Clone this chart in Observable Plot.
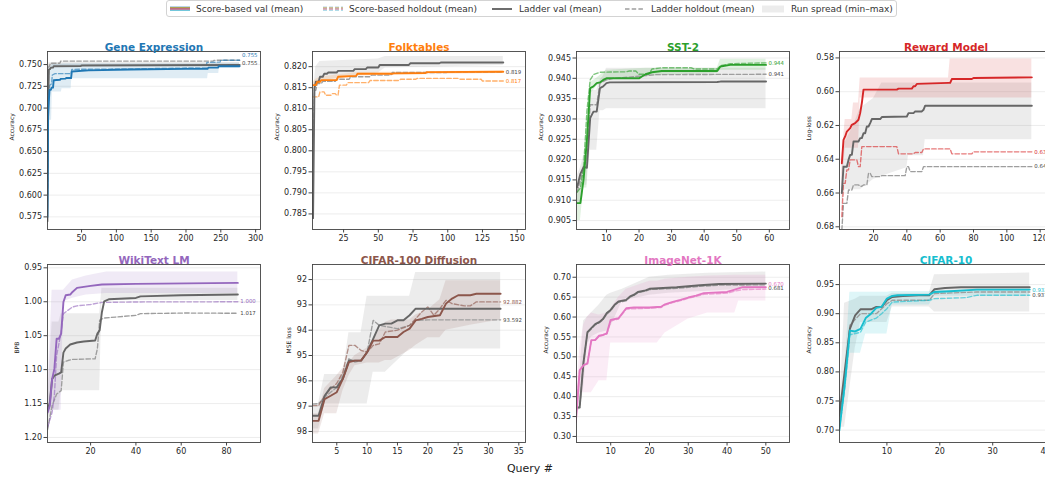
<!DOCTYPE html>
<html><head><meta charset="utf-8">
<script src="https://cdn.jsdelivr.net/npm/d3@7"></script>
<script src="https://cdn.jsdelivr.net/npm/@observablehq/plot@0.6"></script>
<style>
html,body{margin:0;padding:0;background:#fff;}
body{width:1045px;height:480px;overflow:hidden;position:relative;font-family:"DejaVu Sans",sans-serif;}
.panel{position:absolute;}
.panel svg{overflow:visible;max-width:none;}
#legend{position:absolute;left:166px;top:0px;width:731px;height:17px;border:1px solid #d3d3d3;border-radius:3px;box-sizing:border-box;background:#fff;}
.lg{position:absolute;font-size:9px;color:#333;top:2px;line-height:12px;white-space:nowrap;}
.sw{position:absolute;}
#xlabel{position:absolute;left:0;width:1060px;text-align:center;top:462px;font-size:11px;color:#222;}
</style></head><body>
<div id="legend"></div>
<div id="xlabel">Query #</div>
<script>
// ---------- DATA ----------
const titles = ["Gene Expression","Folktables","SST-2","Reward Model","WikiText LM","CIFAR-100 Diffusion","ImageNet-1K","CIFAR-10"];
const yLabels = ["Accuracy","Accuracy","Accuracy","Log-loss","BPB","MSE loss","Accuracy","Accuracy"];
const legendLabels = ["Score-based val (mean)","Score-based holdout (mean)","Ladder val (mean)","Ladder holdout (mean)","Run spread (min\u2013max)"];

const geneXTicks=[50,100,150,200,250,300];
const geneYTicks=[0.575,0.6,0.625,0.65,0.675,0.7,0.725,0.75];
const folkXTicks=[25,50,75,100,125,150];
const folkYTicks=[0.785,0.79,0.795,0.8,0.805,0.81,0.815,0.82];
const sstXTicks=[10,20,30,40,50,60];
const sstYTicks=[0.905,0.91,0.915,0.92,0.925,0.93,0.935,0.94,0.945];
const rewardXTicks=[20,40,60,80,100,120];
const rewardYTicks=[0.58,0.6,0.62,0.64,0.66,0.68];
const wikiXTicks=[20,40,60,80];
const wikiYTicks=[0.95,1.0,1.05,1.1,1.15,1.2];
const c100XTicks=[5,10,15,20,25,30,35];
const c100YTicks=[92,93,94,95,96,97,98];
const inetXTicks=[10,20,30,40,50];
const inetYTicks=[0.3,0.35,0.4,0.45,0.5,0.55,0.6,0.65,0.7];
const c10XTicks=[10,20,30,40];
const c10YTicks=[0.7,0.75,0.8,0.85,0.9,0.95];

// Gene Expression
const geneScoreVal=[[1,0.575],[2,0.69],[3,0.708],[4,0.721],[6,0.721],[7,0.7235],[9,0.7235],[10,0.732],[19,0.7325],[20,0.7335],[27,0.7338],[28,0.7345],[35,0.7345],[36,0.742],[60,0.7433],[120,0.7443],[200,0.745],[231,0.745],[232,0.7465],[246,0.7465],[247,0.748],[277,0.748]];
const geneScoreHold=[[1,0.585],[2,0.70],[4,0.726],[7,0.728],[8,0.738],[12,0.7395],[35,0.7395],[36,0.7445],[120,0.745],[200,0.746],[229,0.746],[230,0.7525],[249,0.7528],[250,0.755],[277,0.755]];
const geneLadderVal=[[1,0.57],[2,0.70],[3,0.744],[5,0.745],[6,0.7465],[9,0.7465],[10,0.748],[49,0.7483],[50,0.749],[277,0.7495]];
const geneLadderHold=[[1,0.60],[2,0.72],[3,0.748],[4,0.748],[5,0.7515],[19,0.7515],[20,0.754],[239,0.754],[240,0.7548],[250,0.755],[277,0.755]];
const geneScoreBand=[[1,0.56,0.60],[3,0.686,0.745],[7,0.686,0.749],[8,0.7185,0.750],[21,0.7185,0.750],[22,0.7223,0.751],[35,0.7223,0.751],[36,0.7338,0.751],[231,0.7338,0.751],[232,0.7396,0.751],[247,0.7396,0.7515],[248,0.746,0.7515],[277,0.746,0.7515]];
const geneLadderBand=[[1,0.56,0.60],[2,0.70,0.745],[3,0.743,0.752],[10,0.7465,0.7525],[50,0.748,0.7525],[277,0.748,0.7525]];

// Folktables
const folkScoreVal=[[2.6,0.8156],[5,0.8156],[6,0.8164],[8,0.8164],[9,0.8168],[20,0.8168],[21,0.8176],[34,0.8178],[35,0.8183],[60,0.8183],[61,0.8184],[84,0.8185],[85,0.8187],[140,0.8188]];
const folkScoreHold=[[2.6,0.8128],[7,0.8128],[8,0.814],[11,0.814],[12,0.8132],[16,0.8132],[17,0.8136],[19,0.8136],[20,0.8132],[21,0.8132],[22,0.8156],[27,0.8156],[28,0.8162],[43,0.8162],[44,0.8167],[65,0.8167],[66,0.817],[77,0.817],[78,0.8172],[108,0.8172],[109,0.817],[124,0.817],[125,0.8166],[140,0.8166]];
const folkLadderVal=[[3,0.784],[4,0.8148],[5,0.8164],[7,0.8164],[8,0.8176],[10,0.8176],[11,0.8183],[13,0.8183],[14,0.8186],[20,0.8186],[21,0.819],[32,0.819],[33,0.8194],[41,0.8194],[42,0.8198],[50,0.8198],[51,0.8204],[72,0.8204],[73,0.8208],[94,0.8208],[95,0.821],[140,0.821]];
const folkLadderHold=[[3,0.80],[4,0.8144],[5,0.8144],[6,0.816],[9,0.816],[10,0.8165],[19,0.8165],[20,0.817],[29,0.817],[30,0.8176],[44,0.8176],[45,0.818],[59,0.818],[60,0.8186],[99,0.8186],[100,0.8187],[140,0.8187]];
const folkScoreBand=[[2.6,0.8148,0.8162],[5,0.8155,0.817],[8,0.816,0.8175],[20,0.8168,0.818],[35,0.8178,0.8186],[140,0.8184,0.819]];
const folkLadderBand=[[3,0.783,0.815],[4,0.814,0.8165],[5,0.8155,0.8200],[8,0.8165,0.8212],[20,0.8172,0.8214],[50,0.8185,0.8218],[55,0.8197,0.8224],[140,0.8203,0.8224]];

// SST-2
const sstScoreVal=[[1,0.9093],[2,0.9093],[3,0.9153],[4,0.9248],[5,0.9376],[6,0.938],[7,0.9388],[8,0.939],[9,0.9396],[10,0.940],[20,0.940],[21,0.9405],[22,0.941],[24,0.9415],[27,0.9418],[44,0.9418],[45,0.9429],[48,0.9433],[59,0.9433]];
const sstScoreHold=[[1,0.912],[2,0.913],[3,0.918],[4,0.932],[5,0.9396],[6,0.9409],[8,0.9415],[16,0.9416],[17,0.9418],[19,0.9418],[20,0.941],[23,0.941],[24,0.9423],[27,0.9426],[36,0.9426],[37,0.9423],[44,0.9423],[45,0.9431],[48,0.9436],[59,0.9438]];
const sstLadderVal=[[1,0.9132],[2,0.9165],[3,0.9182],[4,0.918],[5,0.9302],[6,0.9318],[7,0.9318],[8,0.9376],[9,0.938],[10,0.9388],[11,0.939],[44,0.9391],[45,0.9392],[59,0.9392]];
const sstLadderHold=[[1,0.912],[2,0.915],[3,0.918],[4,0.920],[5,0.9335],[7,0.9335],[8,0.9388],[10,0.9396],[12,0.940],[20,0.9405],[25,0.9409],[59,0.941]];
const sstScoreBand=[[1,0.905,0.913],[2,0.905,0.913],[3,0.913,0.920],[4,0.913,0.930],[5,0.936,0.939],[7,0.938,0.940],[10,0.9395,0.942],[22,0.9405,0.9425],[44,0.9412,0.9425],[45,0.942,0.9447],[59,0.942,0.9447]];
const sstLadderBand=[[1,0.909,0.916],[2,0.909,0.918],[3,0.9137,0.921],[4,0.9137,0.921],[5,0.9223,0.937],[7,0.9223,0.937],[8,0.932,0.9395],[9,0.932,0.9405],[10,0.9325,0.9425],[59,0.9325,0.9425]];

// Reward Model
const rewardScoreVal=[[1,0.6424],[2,0.6285],[3,0.6265],[4,0.6236],[6,0.6216],[7,0.6196],[9,0.6186],[11,0.6166],[12,0.6127],[13,0.6067],[14,0.5988],[34,0.5988],[35,0.5982],[43,0.5982],[44,0.5968],[45,0.5968],[46,0.5954],[65,0.5948],[66,0.5948],[67,0.5925],[79,0.5925],[80,0.5919],[115,0.5915]];
const rewardScoreHold=[[1,0.674],[2,0.6543],[3,0.6543],[4,0.6463],[5,0.6463],[6,0.6404],[10,0.6404],[11,0.6444],[12,0.6444],[13,0.6325],[34,0.6325],[35,0.6368],[44,0.6368],[45,0.636],[49,0.636],[50,0.6339],[66,0.6339],[67,0.6368],[79,0.6368],[80,0.6356],[115,0.6356]];
const rewardLadderVal=[[1,0.660],[2,0.6444],[4,0.6444],[5,0.6404],[6,0.6374],[7,0.6374],[8,0.6295],[11,0.6295],[12,0.6275],[13,0.6275],[14,0.6246],[15,0.6246],[16,0.6206],[17,0.6206],[18,0.6186],[19,0.6162],[24,0.6162],[25,0.615],[40,0.6147],[41,0.6127],[44,0.6127],[45,0.6117],[49,0.6117],[50,0.6107],[51,0.6083],[115,0.6083]];
const rewardLadderHold=[[1,0.682],[2,0.6661],[4,0.6661],[5,0.6582],[7,0.6582],[8,0.6552],[11,0.6552],[12,0.656],[13,0.656],[14,0.6552],[16,0.6552],[17,0.6483],[18,0.6483],[19,0.6503],[24,0.6503],[25,0.6497],[39,0.6497],[40,0.6444],[41,0.6444],[42,0.6473],[49,0.6473],[50,0.6444],[115,0.6444]];
const rewardScoreBand=[[1,0.64,0.66],[3,0.6165,0.6335],[7,0.6165,0.6335],[8,0.6067,0.6335],[11,0.6067,0.6335],[12,0.5919,0.6038],[65,0.5919,0.6038],[66,0.5806,0.6038],[115,0.5806,0.6038]];
const rewardLadderBand=[[1,0.648,0.668],[3,0.63,0.658],[8,0.62,0.658],[12,0.61,0.658],[20,0.604,0.652],[25,0.5948,0.650],[40,0.5948,0.645],[41,0.5948,0.638],[50,0.5948,0.638],[51,0.5948,0.6285],[115,0.5948,0.6285]];

// WikiText LM
const wikiScoreVal=[[1,1.163],[2,1.153],[3,1.114],[4,1.099],[5,1.0545],[6,1.0545],[7,1.047],[8,1.0003],[9,0.9904],[11,0.9894],[12,0.9855],[14,0.9796],[17,0.978],[20,0.9766],[25,0.9746],[40,0.9737],[85,0.9722]];
const wikiScoreHold=[[1,1.185],[3,1.163],[4,1.138],[5,1.079],[7,1.0447],[8,1.0175],[9,1.015],[12,1.0077],[14,1.006],[20,1.004],[25,1.001],[40,1.0003],[85,1.0]];
const wikiLadderVal=[[1,1.160],[2,1.148],[3,1.114],[4,1.109],[6,1.106],[7,1.104],[8,1.075],[9,1.069],[11,1.063],[14,1.060],[17,1.0585],[22,1.057],[23,1.047],[24,1.042],[25,1.015],[26,0.9993],[28,0.9964],[40,0.9944],[42,0.992],[60,0.9904],[85,0.9894]];
const wikiLadderHold=[[1,1.188],[3,1.153],[5,1.136],[7,1.131],[8,1.089],[10,1.0866],[12,1.085],[22,1.084],[23,1.069],[24,1.027],[26,1.024],[40,1.020],[42,1.0175],[62,1.0166],[85,1.017]];
const wikiScoreBand=[[1,1.14,1.17],[3,0.983,1.16],[7,0.983,1.16],[8,0.983,1.0],[12,0.968,0.995],[18,0.962,0.99],[27,0.956,0.988],[85,0.956,0.988]];
const wikiLadderBand=[[1,1.15,1.20],[3,1.03,1.16],[6,1.03,1.16],[7,1.0175,1.131],[24,1.0175,1.131],[25,0.98,0.998],[85,0.98,0.998]];

// CIFAR-100 Diffusion
const c100ScoreVal=[[1,97.58],[2,97.58],[3,96.72],[4,96.59],[5,96.45],[6,95.92],[7,95.26],[8,95.2],[9,95.2],[10,94.87],[11,94.41],[12,94.41],[13,94.27],[15,94.27],[16,94.07],[17,93.94],[18,93.61],[19,93.55],[20,93.48],[22,93.41],[23,92.95],[24,92.75],[25,92.62],[27,92.62],[28,92.56],[32,92.56]];
const c100ScoreHold=[[1,96.98],[2,96.98],[3,96.59],[4,96.32],[5,96.1],[6,95.66],[7,94.6],[8,94.6],[9,94.8],[10,94.87],[11,94.6],[12,94.54],[13,94.07],[15,94.0],[17,93.81],[18,93.55],[19,93.28],[20,93.08],[21,93.41],[22,93.15],[23,92.82],[24,92.95],[26,93.04],[27,93.04],[28,92.882],[32,92.882]];
const c100LadderVal=[[1,97.38],[2,97.38],[3,96.59],[4,96.26],[5,96.26],[6,95.92],[7,95.2],[9,95.2],[10,94.87],[11,94.34],[12,93.81],[13,93.74],[14,93.74],[15,93.61],[16,93.61],[17,93.41],[18,93.15],[32,93.15]];
const c100LadderHold=[[1,96.92],[2,96.9],[3,96.65],[4,96.45],[5,96.26],[6,95.79],[7,95.13],[8,95.26],[9,95.2],[10,94.87],[11,93.61],[12,93.81],[15,93.94],[17,93.81],[18,93.61],[20,93.592],[32,93.592]];
const c100ScoreBand=[[1,97.3,98.1],[2,97.3,98.1],[3,96.3,97.3],[5,95.8,97.3],[6,95.5,96.4],[7,95.3,95.8],[8,95.0,95.4],[10,94.7,95.3],[12,94.0,95.3],[13,93.7,95.2],[14,93.6,95.2],[17,93.6,94.8],[18,93.4,94.6],[20,93.2,94.3],[22,92.8,94.3],[23,92.05,94.0],[27,92.05,93.8],[32,92.05,93.6]];
const c100LadderBand=[[1,96.9,97.9],[2,96.9,97.9],[3,95.75,96.92],[6,95.75,96.92],[7,94.1,96.92],[9,94.1,96.92],[10,92.66,96.92],[11,92.66,95.66],[13,92.66,95.66],[17,92.66,94.74],[18,91.72,94.74],[32,91.72,94.74]];

// ImageNet-1K
const inetScoreVal=[[1,0.335],[2,0.466],[3,0.479],[4,0.483],[5,0.542],[6,0.542],[7,0.553],[8,0.555],[9,0.559],[10,0.593],[12,0.597],[14,0.622],[16,0.624],[20,0.624],[23,0.626],[24,0.632],[26,0.638],[28,0.643],[30,0.649],[32,0.654],[34,0.660],[40,0.663],[42,0.669],[44,0.675],[50,0.6747]];
const inetScoreHold=[[1,0.34],[2,0.468],[3,0.48],[4,0.485],[5,0.54],[6,0.543],[7,0.552],[9,0.557],[10,0.59],[12,0.595],[14,0.62],[20,0.622],[23,0.624],[24,0.63],[26,0.636],[28,0.641],[30,0.647],[32,0.652],[34,0.657],[40,0.66],[42,0.665],[44,0.669],[50,0.670]];
const inetLadderVal=[[1,0.373],[2,0.373],[3,0.487],[4,0.562],[5,0.572],[6,0.582],[7,0.587],[8,0.595],[9,0.61],[10,0.618],[11,0.631],[12,0.639],[14,0.643],[15,0.652],[16,0.656],[17,0.663],[19,0.667],[20,0.671],[27,0.675],[33,0.68],[38,0.683],[50,0.684]];
const inetLadderHold=[[1,0.37],[2,0.372],[3,0.49],[4,0.56],[5,0.57],[6,0.58],[7,0.585],[8,0.593],[9,0.607],[10,0.616],[11,0.629],[12,0.637],[14,0.641],[15,0.65],[16,0.654],[17,0.661],[19,0.665],[20,0.669],[27,0.672],[33,0.677],[38,0.68],[50,0.681]];
const inetScoreBand=[[1,0.30,0.37],[2,0.41,0.52],[3,0.41,0.58],[4,0.41,0.60],[5,0.41,0.61],[7,0.44,0.605],[9,0.44,0.61],[10,0.535,0.62],[12,0.535,0.65],[14,0.535,0.67],[20,0.535,0.69],[22,0.535,0.69],[24,0.56,0.695],[30,0.595,0.70],[35,0.61,0.703],[42,0.61,0.705],[43,0.64,0.705],[50,0.64,0.705]];
const inetLadderBand=[[1,0.365,0.38],[2,0.365,0.45],[3,0.42,0.59],[4,0.53,0.60],[5,0.55,0.61],[7,0.56,0.63],[9,0.565,0.655],[10,0.575,0.66],[13,0.64,0.67],[20,0.655,0.70],[25,0.66,0.705],[35,0.665,0.71],[50,0.673,0.713]];

// CIFAR-10
const c10ScoreVal=[[1,0.699],[2,0.776],[3,0.871],[4,0.8695],[5,0.874],[6,0.8925],[7,0.90],[8,0.91],[9,0.912],[10,0.926],[11,0.9305],[12,0.9316],[18,0.9328],[19,0.9373],[22,0.9385],[27,0.9414],[37,0.9414]];
const c10ScoreHold=[[1,0.70],[2,0.77],[3,0.8638],[5,0.868],[6,0.8856],[8,0.8925],[9,0.90],[10,0.9086],[11,0.920],[18,0.923],[19,0.9258],[25,0.9276],[27,0.9316],[37,0.9316]];
const c10LadderVal=[[1,0.7246],[2,0.7994],[3,0.874],[4,0.897],[5,0.9075],[7,0.9075],[8,0.9115],[9,0.9115],[10,0.923],[11,0.9287],[13,0.9305],[16,0.9316],[18,0.9316],[19,0.942],[21,0.9442],[24,0.9454],[37,0.9454]];
const c10LadderHold=[[1,0.715],[2,0.79],[3,0.88],[5,0.90],[8,0.90],[10,0.917],[11,0.923],[18,0.923],[19,0.9345],[27,0.9373],[37,0.9373]];
const c10ScoreBand=[[1,0.69,0.70],[2,0.75,0.80],[3,0.832,0.937],[5,0.832,0.937],[6,0.865,0.937],[10,0.865,0.937],[11,0.915,0.938],[18,0.915,0.938],[19,0.93,0.94],[37,0.93,0.94]];
const c10LadderBand=[[1,0.705,0.72],[2,0.705,0.918],[4,0.84,0.925],[5,0.885,0.93],[10,0.885,0.93],[11,0.9115,0.935],[18,0.9115,0.935],[19,0.903,0.967],[37,0.903,0.97]];

// ---------- STYLE / LAYOUT ----------
const colors=["#1f77b4","#ff7f0e","#2ca02c","#d62728","#9467bd","#8c564b","#e377c2","#17becf"];
const FW=213, FH=178, ML=46, MR=34, MT=22, MB=24;
const colLeft=[47,311.7,575.7,839.3], rowTop=[51,264.3];
const panels=[
 {xd:[1.1,307],yd:[0.5605,0.765],rev:false,xt:geneXTicks,yt:geneYTicks,fmt:".3f",d:[geneScoreVal,geneScoreHold,geneLadderVal,geneLadderHold,geneScoreBand,geneLadderBand]},
 {xd:[2.6,156],yd:[0.7813,0.8236],rev:false,xt:folkXTicks,yt:folkYTicks,fmt:".3f",d:[folkScoreVal,folkScoreHold,folkLadderVal,folkLadderHold,folkScoreBand,folkLadderBand]},
 {xd:[0.8,66.2],yd:[0.9028,0.9466],rev:false,xt:sstXTicks,yt:sstYTicks,fmt:".3f",d:[sstScoreVal,sstScoreHold,sstLadderVal,sstLadderHold,sstScoreBand,sstLadderBand]},
 {xd:[-0.4,127.4],yd:[0.5762,0.6816],rev:true,xt:rewardXTicks,yt:rewardYTicks,fmt:".2f",d:[rewardScoreVal,rewardScoreHold,rewardLadderVal,rewardLadderHold,rewardScoreBand,rewardLadderBand]},
 {xd:[0.97,95],yd:[0.9451,1.2074],rev:true,xt:wikiXTicks,yt:wikiYTicks,fmt:".2f",d:[wikiScoreVal,wikiScoreHold,wikiLadderVal,wikiLadderHold,wikiScoreBand,wikiLadderBand]},
 {xd:[1.0,36.1],yd:[91.405,98.436],rev:true,xt:c100XTicks,yt:c100YTicks,fmt:"d",d:[c100ScoreVal,c100ScoreHold,c100LadderVal,c100LadderHold,c100ScoreBand,c100LadderBand]},
 {xd:[1.18,56.1],yd:[0.2848,0.732],rev:false,xt:inetXTicks,yt:inetYTicks,fmt:".2f",d:[inetScoreVal,inetScoreHold,inetLadderVal,inetLadderHold,inetScoreBand,inetLadderBand]},
 {xd:[1.04,41.3],yd:[0.6787,0.9845],rev:false,xt:c10XTicks,yt:c10YTicks,fmt:".2f",d:[c10ScoreVal,c10ScoreHold,c10LadderVal,c10LadderHold,c10ScoreBand,c10LadderBand]}
];

const ctx=document.createElement("canvas").getContext("2d");
ctx.font="8px 'DejaVu Sans'";
const X=d=>d[0], Y=d=>d[1], Y1=d=>d[1], Y2=d=>d[2];
const endFmt=d3.format(".3f");

panels.forEach((p,i)=>{
  const color=colors[i];
  const [sVal,sHold,lVal,lHold,sBand,lBand]=p.d;
  const fmt=d3.format(p.fmt);
  const labW=d3.max(p.yt,t=>ctx.measureText(fmt(t)).width);
  const sEnd=sHold[sHold.length-1], lEnd=lHold[lHold.length-1];
  const pix=Math.abs(sEnd[1]-lEnd[1])/Math.abs(p.yd[1]-p.yd[0])*FH;
  const close=pix<7;
  const dyS=close?-5:0, dyL=close?3.5:0;
  const chart=Plot.plot({
    width:ML+FW+MR, height:MT+FH+MB,
    marginLeft:ML, marginRight:MR, marginTop:MT, marginBottom:MB,
    style:{background:"none",fontFamily:"'DejaVu Sans', sans-serif",color:"#262626",overflow:"visible"},
    x:{domain:p.xd},
    y:{domain:p.yd,reverse:p.rev},
    marks:[
      Plot.gridY(p.yt,{stroke:"#e9e9e9",strokeOpacity:1,strokeWidth:0.8}),
      Plot.areaY(lBand,{x:X,y1:Y1,y2:Y2,fill:"#8c8c8c",fillOpacity:0.17,clip:true}),
      Plot.areaY(sBand,{x:X,y1:Y1,y2:Y2,fill:color,fillOpacity:0.14,clip:true}),
      Plot.line(lHold,{x:X,y:Y,stroke:"#9e9e9e",strokeWidth:1.35,strokeDasharray:"4.5,2.2",clip:true}),
      Plot.line(sHold,{x:X,y:Y,stroke:color,strokeOpacity:0.62,strokeWidth:1.35,strokeDasharray:"4.5,2.2",clip:true}),
      Plot.line(lVal,{x:X,y:Y,stroke:"#666666",strokeWidth:1.9,clip:true}),
      Plot.line(sVal,{x:X,y:Y,stroke:color,strokeWidth:1.9,clip:true}),
      Plot.frame({stroke:"#444",strokeWidth:0.9}),
      Plot.axisX(p.xt,{tickSize:3.5,tickPadding:2,fontSize:8,label:null,stroke:"#444"}),
      Plot.axisY(p.yt,{tickSize:3.5,tickPadding:2,fontSize:8,label:null,tickFormat:fmt,stroke:"#444"}),
      Plot.text([titles[i]],{frameAnchor:"top",dy:-8,fontWeight:"bold",fontSize:10.5,fill:color}),
      Plot.text([yLabels[i]],{frameAnchor:"left",rotate:-90,dx:-(labW+13),fontSize:6,fill:"#262626"}),
      Plot.text([sEnd],{x:X,y:Y,text:d=>endFmt(d[1]),dx:2.5,dy:dyS,textAnchor:"start",fontSize:5.4,fill:color}),
      Plot.text([lEnd],{x:X,y:Y,text:d=>endFmt(d[1]),dx:2.5,dy:dyL,textAnchor:"start",fontSize:5.4,fill:"#444"})
    ]
  });
  const div=document.createElement("div");
  div.className="panel";
  div.style.left=(colLeft[i%4]-ML)+"px";
  div.style.top=(rowTop[Math.floor(i/4)]-MT)+"px";
  div.appendChild(chart);
  document.body.appendChild(div);
});

// ---------- LEGEND ----------
const leg=document.getElementById("legend");
const items=[{sw:170,tx:196},{sw:323,tx:349},{sw:492,tx:519},{sw:625,tx:651},{sw:762,tx:791}];
items.forEach((it,k)=>{
  const svg=d3.create("svg").attr("class","sw").attr("width",24).attr("height",10)
    .style("left",(it.sw-166-1)+"px").style("top","3px");
  if(k<2){
    colors.forEach((c,j)=>{
      svg.append("line").attr("x1",0).attr("x2",20).attr("y1",3+j*0.5).attr("y2",3+j*0.5)
        .attr("stroke",c).attr("stroke-width",0.6).attr("stroke-opacity",k===0?1:0.55)
        .attr("stroke-dasharray",k===0?null:"4,2");
    });
  } else if(k===2){
    svg.append("line").attr("x1",0).attr("x2",20).attr("y1",5).attr("y2",5).attr("stroke","#666").attr("stroke-width",1.9);
  } else if(k===3){
    svg.append("line").attr("x1",0).attr("x2",20).attr("y1",5).attr("y2",5).attr("stroke","#9e9e9e").attr("stroke-width",1.35).attr("stroke-dasharray","4.5,2.2");
  } else {
    svg.append("rect").attr("x",0).attr("y",1.5).attr("width",22).attr("height",7).attr("fill","#8c8c8c").attr("fill-opacity",0.17);
  }
  leg.appendChild(svg.node());
  const t=document.createElement("div");
  t.className="lg"; t.style.left=(it.tx-166-1)+"px"; t.textContent=legendLabels[k];
  leg.appendChild(t);
});
</script>
</body></html>
